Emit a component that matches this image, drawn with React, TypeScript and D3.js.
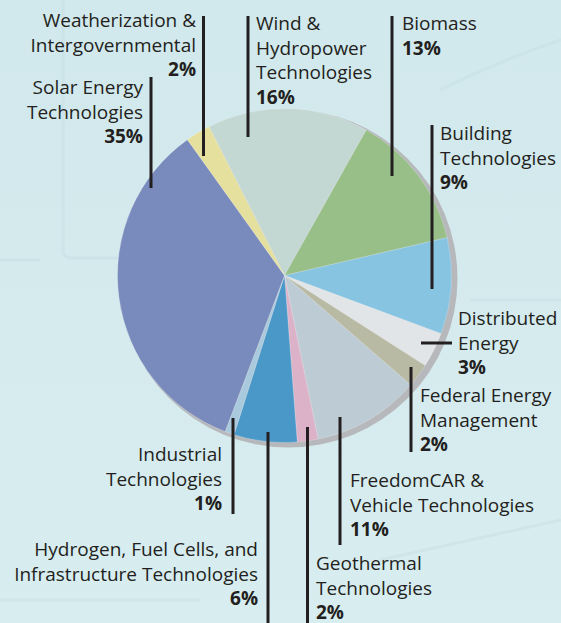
import React from "react";
import * as d3 from "d3";

// ---- Data ----
const categories = [
  "Wind & Hydropower Technologies",
  "Biomass",
  "Building Technologies",
  "Distributed Energy",
  "Federal Energy Management",
  "FreedomCAR & Vehicle Technologies",
  "Geothermal Technologies",
  "Hydrogen, Fuel Cells, and Infrastructure Technologies",
  "Industrial Technologies",
  "Solar Energy Technologies",
  "Weatherization & Intergovernmental",
];
// slice shares as drawn in the picture
const shares = [15.6, 13.2, 9.3, 3.4, 2.3, 10.4, 2.0, 6.1, 0.9, 34.3, 2.4];
// printed percentages
const pctLabels = ["16%", "13%", "9%", "3%", "2%", "11%", "2%", "6%", "1%", "35%", "2%"];
const labelLines = [
  ["Wind &", "Hydropower", "Technologies"],
  ["Biomass"],
  ["Building", "Technologies"],
  ["Distributed", "Energy"],
  ["Federal Energy", "Management"],
  ["FreedomCAR &", "Vehicle Technologies"],
  ["Geothermal", "Technologies"],
  ["Hydrogen, Fuel Cells, and", "Infrastructure Technologies"],
  ["Industrial", "Technologies"],
  ["Solar Energy", "Technologies"],
  ["Weatherization &", "Intergovernmental"],
];

// ---- Styles / layout ----
const colors = [
  "#c3d7d3", "#97bf87", "#86c4e1", "#e2e5e8", "#b9baa4", "#bdccd4",
  "#dcb2c9", "#4998c8", "#a9c9dd", "#788bbc", "#e6e09f",
];
const W = 561, H = 623;
const CX = 284.5, CY = 275.5, R = 167;
const START_DEG = -26.9;
const TEXT = "#231f20";
const FONT = "'Open Sans', 'Noto Sans', sans-serif";
const FS = 19;
const LH = 24.6;

type Lay = { anchor: "start" | "end"; x: number; y: number; lx1: number; ly1: number; lx2: number; ly2: number };
const layout: Lay[] = [
  { anchor: "start", x: 256, y: 30, lx1: 248, ly1: 16, lx2: 248, ly2: 137 },
  { anchor: "start", x: 402, y: 30, lx1: 392, ly1: 16, lx2: 392, ly2: 176 },
  { anchor: "start", x: 440, y: 140, lx1: 432, ly1: 125, lx2: 432, ly2: 289 },
  { anchor: "start", x: 458, y: 325, lx1: 421, ly1: 343, lx2: 452, ly2: 343 },
  { anchor: "start", x: 420, y: 402, lx1: 411, ly1: 367, lx2: 411, ly2: 452 },
  { anchor: "start", x: 350, y: 487, lx1: 340, ly1: 417, lx2: 340, ly2: 545 },
  { anchor: "start", x: 316, y: 570, lx1: 307.5, ly1: 427, lx2: 307.5, ly2: 623 },
  { anchor: "end", x: 258, y: 556, lx1: 268, ly1: 432, lx2: 268, ly2: 623 },
  { anchor: "end", x: 222, y: 461, lx1: 233, ly1: 418, lx2: 233, ly2: 514 },
  { anchor: "end", x: 143, y: 94, lx1: 151, ly1: 77, lx2: 151, ly2: 188 },
  { anchor: "end", x: 196, y: 27, lx1: 203.5, ly1: 16, lx2: 203.5, ly2: 156 },
];

export default function App() {
  const start = (START_DEG * Math.PI) / 180;
  const pie = d3
    .pie<number>()
    .sort(null)
    .value((d) => d)
    .startAngle(start)
    .endAngle(start + 2 * Math.PI);
  const arcs = pie(shares);
  const arc = d3.arc<d3.PieArcDatum<number>>().innerRadius(0).outerRadius(R);

  return (
    <svg
      width={W}
      height={H}
      viewBox={`0 0 ${W} ${H}`}
      style={{ position: "absolute", left: 0, top: 0, display: "block" }}
    >
      <defs>
        <linearGradient id="bg" x1="0" y1="0" x2="0" y2="1">
          <stop offset="0" stopColor="#d1e8ec" />
          <stop offset="1" stopColor="#d8edf0" />
        </linearGradient>
      </defs>
      <rect x={0} y={0} width={W} height={H} fill="url(#bg)" />
      {/* faint background sketch */}
      <g fill="none" stroke="#c8e1e6" strokeWidth={3} opacity={0.6}>
        <path d="M63 0 V250 Q63 258 72 258 H160" />
        <path d="M0 260 H40" />
        <path d="M470 300 H561" />
        <path d="M440 90 Q500 60 561 40" />
        <path d="M0 600 H200" />
        <path d="M380 560 Q470 540 561 520" />
      </g>
      {/* shadow */}
      <circle cx={CX + 4} cy={CY + 3} r={R + 2} fill="#b6b8bc" />
      <g transform={`translate(${CX},${CY})`}>
        {arcs.map((a, i) => (
          <path
            key={categories[i]}
            d={arc(a) || ""}
            fill={colors[i]}
            stroke="#ffffff"
            strokeOpacity={0.35}
            strokeWidth={0.6}
          />
        ))}
      </g>
      {/* leader lines */}
      <g stroke={TEXT} strokeWidth={3}>
        {layout.map((l, i) => (
          <line key={i} x1={l.lx1} y1={l.ly1} x2={l.lx2} y2={l.ly2} />
        ))}
      </g>
      {/* labels */}
      <g fill={TEXT} fontFamily={FONT} fontSize={FS}>
        {layout.map((l, i) => (
          <text key={i} x={l.x} y={l.y} textAnchor={l.anchor}>
            {labelLines[i].map((s, j) => (
              <tspan key={j} x={l.x} y={l.y + j * LH}>
                {s}
              </tspan>
            ))}
            <tspan x={l.x} y={l.y + labelLines[i].length * LH} fontWeight={700}>
              {pctLabels[i]}
            </tspan>
          </text>
        ))}
      </g>
    </svg>
  );
}
